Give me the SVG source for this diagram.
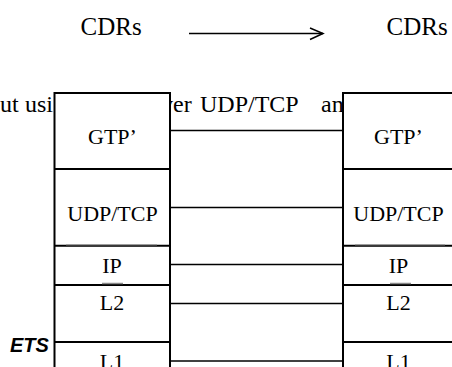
<svg xmlns="http://www.w3.org/2000/svg" width="452" height="367" viewBox="0 0 452 367">
<defs>
<style>
.box{fill:#fff;stroke:#000;stroke-width:2}
.div{stroke:#000;stroke-width:2;fill:none}
.con{stroke:#000;stroke-width:1.5;fill:none}
.gry{stroke:#8a8a8a;stroke-width:1.5;fill:none}
.mid{stroke:#3a3a3a;stroke-width:2;fill:none}
</style>
</defs>
<rect width="452" height="367" fill="#fff"/>
<text x="10" y="352" font-family="Liberation Sans" font-size="20" font-weight="bold" font-style="italic">ETS</text>
<g id="title">
<text x="80.5" y="34.5" font-family="Liberation Serif" font-size="25">CDRs</text>
<text x="386.5" y="34.5" font-family="Liberation Serif" font-size="25">CDRs</text>
<g id="cdr-arrow">
<line class="con" x1="189" y1="33.5" x2="323" y2="33.5"/>
<polyline class="con" points="310,28 323,33.5 310,39.5"/>
</g>
</g>
<g id="background-text">
<text y="111.5" font-family="Liberation Serif" font-size="24"><tspan x="0">ut</tspan><tspan x="25">usi</tspan><tspan x="161">ver</tspan><tspan x="200">UDP/TCP</tspan><tspan x="321">an</tspan></text>
</g>
<g id="connectors">
<line class="con" x1="170" y1="130.5" x2="343" y2="130.5"/>
<line class="con" x1="170" y1="207.5" x2="343" y2="207.5"/>
<line class="con" x1="170" y1="264.5" x2="343" y2="264.5"/>
<line class="con" x1="170" y1="303.5" x2="343" y2="303.5"/>
<line class="con" x1="170" y1="361" x2="343" y2="361"/>
</g>
<g id="left-stack">
<rect class="box" x="54.5" y="93" width="115.5" height="290"/>
<g id="left-gtp"><text x="112.5" y="144" font-family="Liberation Serif" font-size="22" text-anchor="middle">GTP’</text></g>
<line class="div" x1="54.5" y1="169" x2="170" y2="169"/>
<g id="left-udptcp"><text x="112.5" y="221" font-family="Liberation Serif" font-size="22" text-anchor="middle">UDP/TCP</text></g>
<line class="div" x1="54.5" y1="245.7" x2="170" y2="245.7"/>
<line class="mid" x1="66" y1="245.7" x2="157" y2="245.7"/>
<g id="left-ip"><text x="112" y="273" font-family="Liberation Serif" font-size="22" text-anchor="middle">IP</text></g>
<line class="div" x1="54.5" y1="285" x2="170" y2="285"/>
<line class="gry" x1="102" y1="283.5" x2="123" y2="283.5"/>
<g id="left-l2"><text x="112" y="310" font-family="Liberation Serif" font-size="22" text-anchor="middle">L2</text></g>
<line class="div" x1="54.5" y1="342" x2="170" y2="342"/>
<g id="left-l1"><text x="112" y="369" font-family="Liberation Serif" font-size="22" text-anchor="middle">L1</text></g>
</g>
<g id="right-stack">
<rect class="box" x="343" y="93" width="116" height="290"/>
<g id="right-gtp"><text x="398.5" y="144" font-family="Liberation Serif" font-size="22" text-anchor="middle">GTP’</text></g>
<line class="div" x1="343" y1="169" x2="459" y2="169"/>
<g id="right-udptcp"><text x="398.5" y="221" font-family="Liberation Serif" font-size="22" text-anchor="middle">UDP/TCP</text></g>
<line class="div" x1="343" y1="245.7" x2="459" y2="245.7"/>
<line class="mid" x1="355" y1="245.7" x2="445" y2="245.7"/>
<g id="right-ip"><text x="398.5" y="273" font-family="Liberation Serif" font-size="22" text-anchor="middle">IP</text></g>
<line class="div" x1="343" y1="285" x2="459" y2="285"/>
<line class="gry" x1="390" y1="283.5" x2="411" y2="283.5"/>
<g id="right-l2"><text x="398.5" y="310" font-family="Liberation Serif" font-size="22" text-anchor="middle">L2</text></g>
<line class="div" x1="343" y1="342" x2="459" y2="342"/>
<g id="right-l1"><text x="398.5" y="369" font-family="Liberation Serif" font-size="22" text-anchor="middle">L1</text></g>
</g>
</svg>
